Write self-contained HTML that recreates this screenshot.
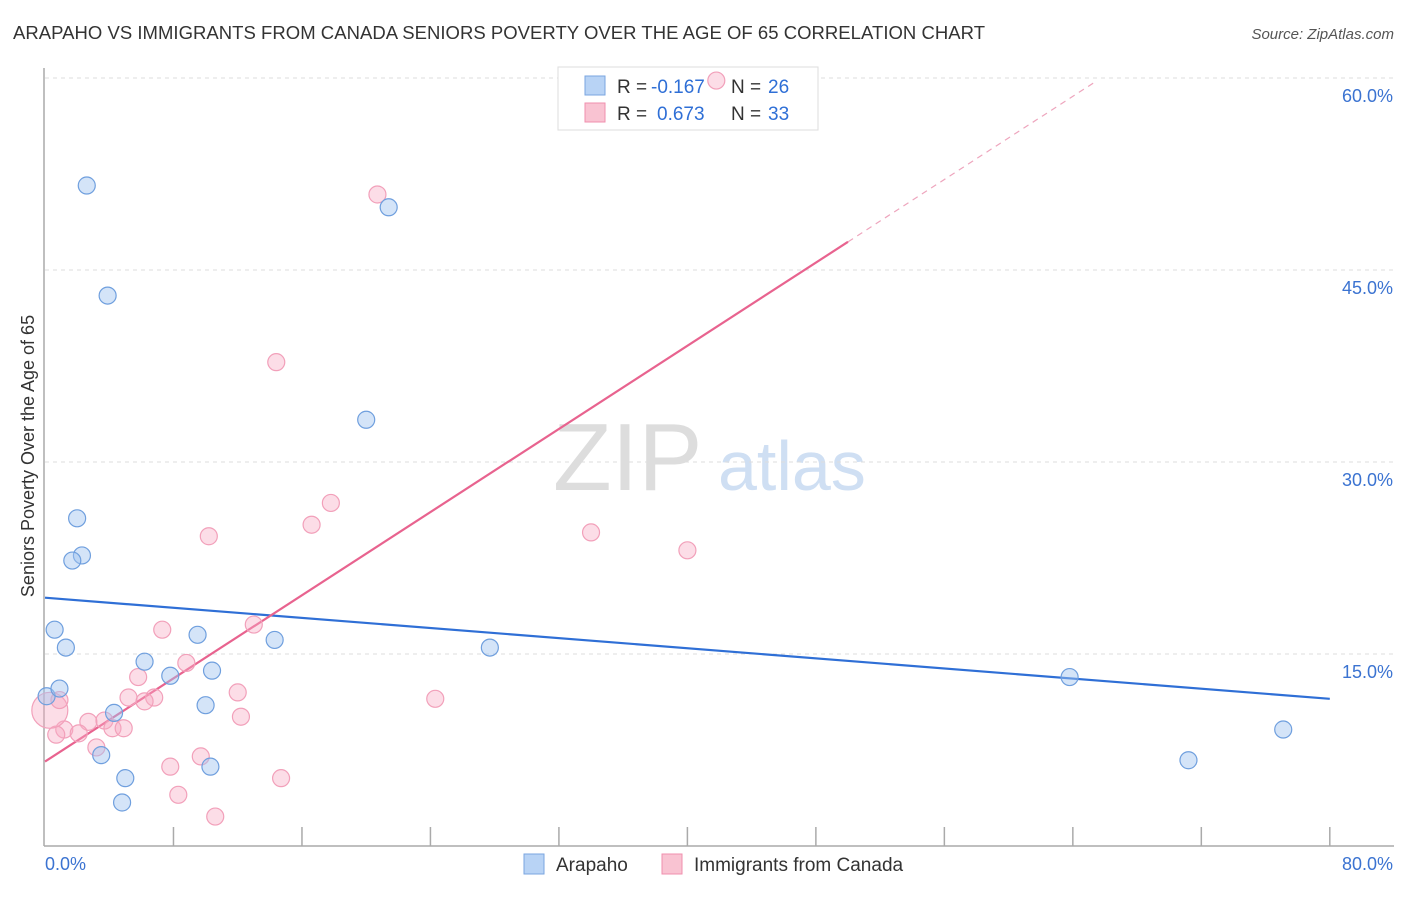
<!DOCTYPE html>
<html><head><meta charset="utf-8"><style>
body{margin:0;background:#fff;font-family:"Liberation Sans",sans-serif}
svg text{font-family:"Liberation Sans",sans-serif}
</style></head><body>
<svg id="chart" width="1406" height="892">
<text x="13" y="39" font-size="18.5" fill="#333" textLength="972">ARAPAHO VS IMMIGRANTS FROM CANADA SENIORS POVERTY OVER THE AGE OF 65 CORRELATION CHART</text>
<text x="1394" y="39" font-size="15" fill="#555" font-style="italic" text-anchor="end">Source: ZipAtlas.com</text>
<text x="553" y="490" font-size="96" fill="#ddd" font-family="Liberation Serif">ZIP</text>
<text x="718" y="490" font-size="70" fill="#cfdff3">atlas</text>
<text transform="translate(34,456) rotate(-90)" font-size="18" fill="#333" text-anchor="middle">Seniors Poverty Over the Age of 65</text>
<g id="grid"></g>
<g>
<rect x="558" y="67" width="260" height="63" fill="#fff" stroke="#ddd"/>
<rect x="585" y="76" width="20" height="19" fill="#b8d3f5" stroke="#7aa6e0"/>
<rect x="585" y="103" width="20" height="19" fill="#f9c3d2" stroke="#f08fae"/>
<text x="617" y="93" font-size="19" fill="#333">R =</text>
<text x="651" y="93" font-size="19" fill="#2f6fd6">-0.167</text>
<text x="731" y="93" font-size="19" fill="#333">N =</text>
<text x="768" y="93" font-size="19" fill="#2f6fd6">26</text>
<text x="617" y="120" font-size="19" fill="#333">R =</text>
<text x="657" y="120" font-size="19" fill="#2f6fd6">0.673</text>
<text x="731" y="120" font-size="19" fill="#333">N =</text>
<text x="768" y="120" font-size="19" fill="#2f6fd6">33</text>
</g>
<g id="lines"></g><g id="pts"></g>
<g>
<rect x="524" y="854" width="20" height="20" fill="#b8d3f5" stroke="#7aa6e0"/>
<text x="556" y="871" font-size="19" fill="#333">Arapaho</text>
<rect x="662" y="854" width="20" height="20" fill="#f9c3d2" stroke="#f08fae"/>
<text x="694" y="871" font-size="19" fill="#333">Immigrants from Canada</text>
</g>
</svg>
<script>
const yTicks=[15,30,45,60];
const yTickLabels=["15.0%","30.0%","45.0%","60.0%"];
const xTickLabels=["0.0%","80.0%"];
const blueX=[2.6,3.9,21.4,20.0,2.0,2.3,1.7,0.6,1.3,9.5,14.3,6.2,7.8,10.4,0.1,0.9,4.3,10.0,3.5,5.0,4.8,10.3,27.7,63.8,71.2,77.1];
const blueY=[51.6,43.0,49.9,33.3,25.6,22.7,22.3,16.9,15.5,16.5,16.1,14.4,13.3,13.7,11.7,12.3,10.4,11.0,7.1,5.3,3.4,6.2,15.5,13.2,6.7,9.1];
const pinkX=[41.8,20.7,14.4,17.8,16.6,10.2,34.0,40.0,7.3,13.0,8.8,5.8,5.2,6.8,6.2,12.0,12.2,24.3,3.7,2.7,4.2,4.9,1.2,2.1,0.7,0.3,3.2,7.8,9.7,8.3,10.6,14.7,0.9];
const pinkY=[59.8,50.9,37.8,26.8,25.1,24.2,24.5,23.1,16.9,17.3,14.3,13.2,11.6,11.6,11.3,12.0,10.1,11.5,9.8,9.7,9.2,9.2,9.1,8.8,8.7,10.6,7.7,6.2,7.0,4.0,2.3,5.3,11.4];
const pinkR=[8.5,8.5,8.5,8.5,8.5,8.5,8.5,8.5,8.5,8.5,8.5,8.5,8.5,8.5,8.5,8.5,8.5,8.5,8.5,8.5,8.5,8.5,8.5,8.5,8.5,18,8.5,8.5,8.5,8.5,8.5,8.5,8.5];
const blueLine=[19.4,11.5];
const pinkLine=[6.6,0.812];
const X=v=>45+v*16.06, Y=v=>846-v*12.8;
const NS="http://www.w3.org/2000/svg";
function mk(p,t,a){const e=document.createElementNS(NS,t);for(const k in a)e.setAttribute(k,a[k]);p.appendChild(e);return e;}
const g=document.getElementById('grid');
yTicks.forEach((t,i)=>{
 const l=mk(g,'line',{x1:45,x2:1394,y1:Y(t),y2:Y(t),stroke:'#ddd','stroke-dasharray':'4,4'});
 
 
 const tx=mk(g,'text',{x:1393,y:Y(t)+24,'font-size':18,fill:'#3b73d1','text-anchor':'end'});tx.textContent=yTickLabels[i];
 
 
});
const ax=mk(g,'line',{x1:44,x2:44,y1:68,y2:846,stroke:'#aaa','stroke-width':1.5});


const bx=mk(g,'line',{x1:44,x2:1394,y1:846,y2:846,stroke:'#aaa','stroke-width':1.5});


for(let i=1;i<=10;i++){const t=mk(g,'line',{x1:X(i*8),x2:X(i*8),y1:827,y2:846,stroke:'#aaa','stroke-width':1.5});
 
 }
const x0=mk(g,'text',{x:45,y:870,'font-size':18,fill:'#3b73d1'});x0.textContent=xTickLabels[0];


const x1=mk(g,'text',{x:1393,y:870,'font-size':18,fill:'#3b73d1','text-anchor':'end'});x1.textContent=xTickLabels[1];


const pg=document.getElementById('pts');
pinkX.forEach((x,i)=>{const c=mk(pg,'circle',{cx:X(x),cy:Y(pinkY[i]),r:pinkR[i],fill:'rgba(247,170,195,0.4)',stroke:'#f2a0ba','stroke-width':1.2});
 
 });
blueX.forEach((x,i)=>{const c=mk(pg,'circle',{cx:X(x),cy:Y(blueY[i]),r:8.5,fill:'rgba(160,195,240,0.45)',stroke:'#6f9fde','stroke-width':1.2});
 
 });
const lg=document.getElementById('lines');
const bl=mk(lg,'line',{x1:X(0),y1:Y(blueLine[0]),x2:X(80),y2:Y(blueLine[1]),stroke:'#2f6fd6','stroke-width':2.2});


const pl=mk(lg,'line',{x1:X(0),y1:Y(pinkLine[0]),x2:X(50),y2:Y(pinkLine[0]+pinkLine[1]*50),stroke:'#e8638f','stroke-width':2.2});


const pd=mk(lg,'line',{x1:X(50),y1:Y(pinkLine[0]+pinkLine[1]*50),x2:X(65.3),y2:Y(pinkLine[0]+pinkLine[1]*65.3),stroke:'#eea5bd','stroke-width':1.2,'stroke-dasharray':'6,5'});


</script>
</body></html>
